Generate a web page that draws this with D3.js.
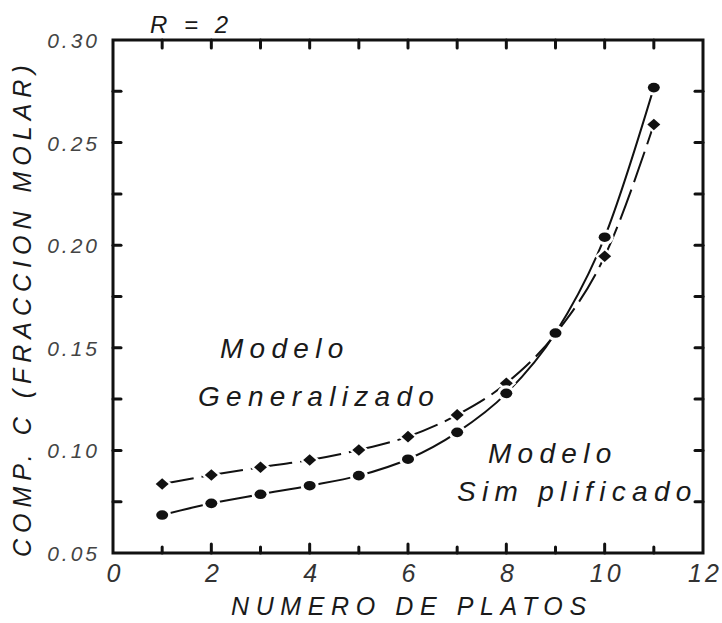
<!DOCTYPE html>
<html>
<head>
<meta charset="utf-8">
<script src="https://cdn.jsdelivr.net/npm/d3@7"></script>
<style>
  html, body { margin: 0; padding: 0; background: #fff; }
  svg { display: block; }
  text { font-family: "Liberation Sans", Arial, sans-serif; font-style: italic; }
</style>
</head>
<body>
<svg id="chart" width="722" height="623"></svg>
<script>
// Number of plates (x) and composition of C (mole fraction) for the two models
const platos = [1, 2, 3, 4, 5, 6, 7, 8, 9, 10, 11];
const generalizado = [0.0836, 0.0880, 0.0918, 0.0953, 0.1002, 0.1067, 0.1173, 0.1327, 0.1568, 0.1946, 0.2588];
const simplificado = [0.0685, 0.0742, 0.0786, 0.0828, 0.0877, 0.0957, 0.1088, 0.1278, 0.1572, 0.2039, 0.2768];

const xTickValues = [0, 2, 4, 6, 8, 10, 12];
const yTickValues = [0.05, 0.10, 0.15, 0.20, 0.25, 0.30];

const svg = d3.select("#chart");
const plot = { left: 113, right: 703, top: 40, bottom: 553 };

const x = d3.scaleLinear().domain([0, 12]).range([plot.left, plot.right]);
const y = d3.scaleLinear().domain([0.05, 0.30]).range([plot.bottom, plot.top]);

const ink = "#111";

// Tick marks pointing inward on all four sides
const xMinor = d3.range(0, 13, 1);
const yMinor = d3.range(0, 11).map(i => 0.05 + i * 0.025);

const ticks = svg.append("g").attr("stroke", ink).attr("stroke-width", 3).attr("stroke-linecap", "round");
xMinor.forEach(v => {
  if (v === 0 || v === 12) return;
  const len = v % 2 === 0 ? 9 : 6;
  ticks.append("line").attr("x1", x(v)).attr("x2", x(v)).attr("y1", plot.bottom).attr("y2", plot.bottom - len);
  ticks.append("line").attr("x1", x(v)).attr("x2", x(v)).attr("y1", plot.top).attr("y2", plot.top + 8);
});
yMinor.forEach((v, i) => {
  if (i === 0 || i === yMinor.length - 1) return;
  ticks.append("line").attr("x1", plot.left).attr("x2", plot.left + 8).attr("y1", y(v)).attr("y2", y(v));
  ticks.append("line").attr("x1", plot.right).attr("x2", plot.right - 8).attr("y1", y(v)).attr("y2", y(v));
});

// Frame
svg.append("rect")
  .attr("x", plot.left).attr("y", plot.top)
  .attr("width", plot.right - plot.left).attr("height", plot.bottom - plot.top)
  .attr("fill", "none").attr("stroke", ink).attr("stroke-width", 3);

// Tick labels
svg.append("g").selectAll("text").data(xTickValues).join("text")
  .attr("x", d => x(d) + 2).attr("y", 582)
  .attr("text-anchor", "middle")
  .attr("font-size", 25).attr("letter-spacing", 3)
  .attr("fill", "#333")
  .text(d => d);

svg.append("g").selectAll("text").data(yTickValues).join("text")
  .attr("x", 100).attr("y", d => y(d) + 8)
  .attr("text-anchor", "end")
  .attr("font-size", 21).attr("letter-spacing", 3)
  .attr("fill", "#444")
  .text(d => d.toFixed(2));

// Axis titles
svg.append("text")
  .attr("x", 231).attr("y", 615)
  .attr("font-size", 25).attr("letter-spacing", 6.6)
  .attr("fill", "#1a1a1a")
  .text("NUMERO DE PLATOS");

svg.append("text")
  .attr("transform", "translate(31,557) rotate(-90)")
  .attr("font-size", 25).attr("letter-spacing", 6.0)
  .attr("fill", "#1a1a1a")
  .text("COMP. C (FRACCION MOLAR)");

svg.append("text")
  .attr("x", 150).attr("y", 33)
  .attr("font-size", 24).attr("letter-spacing", 5)
  .attr("fill", "#1a1a1a")
  .text("R = 2");

// Curves
const line = d3.line().x((d, i) => x(platos[i])).y(d => y(d)).curve(d3.curveMonotoneX);

svg.append("path").datum(simplificado)
  .attr("d", line).attr("fill", "none")
  .attr("stroke", ink).attr("stroke-width", 2);

// Dashed curve drawn one interval at a time so each dash run starts at a marker
function segmentPaths(values) {
  const d = line(values);
  const parts = d.split("C");
  const start = parts[0].replace("M", "").split(",").map(Number);
  const out = [];
  let prev = start;
  for (let i = 1; i < parts.length; i++) {
    const nums = parts[i].split(",").map(Number);
    out.push(`M${prev[0]},${prev[1]}C${parts[i]}`);
    prev = [nums[4], nums[5]];
  }
  return out;
}
svg.append("g").selectAll("path").data(segmentPaths(generalizado)).join("path")
  .attr("d", d => d).attr("fill", "none")
  .attr("stroke", ink).attr("stroke-width", 2)
  .attr("stroke-dasharray", "32,8");

// Markers with a white halo so the lines stop short of them
function drawCircles(values) {
  const g = svg.append("g");
  values.forEach((v, i) => {
    g.append("ellipse").attr("cx", x(platos[i])).attr("cy", y(v)).attr("rx", 9).attr("ry", 8).attr("fill", "#fff");
  });
  values.forEach((v, i) => {
    g.append("ellipse").attr("cx", x(platos[i])).attr("cy", y(v)).attr("rx", 6).attr("ry", 4.8).attr("fill", ink);
  });
}
function drawDiamonds(values) {
  const g = svg.append("g");
  const diamond = (cx, cy, w, h) => `M${cx - w},${cy}L${cx},${cy - h}L${cx + w},${cy}L${cx},${cy + h}Z`;
  values.forEach((v, i) => {
    g.append("path").attr("d", diamond(x(platos[i]), y(v), 10, 9)).attr("fill", "#fff");
  });
  values.forEach((v, i) => {
    g.append("path").attr("d", diamond(x(platos[i]), y(v), 6.5, 5.8)).attr("fill", ink);
  });
}
drawDiamonds(generalizado);
drawCircles(simplificado);

// Model labels
const labels = [
  { text: "Modelo", x: 220, y: 358 },
  { text: "Generalizado", x: 198, y: 406 },
  { text: "Modelo", x: 488, y: 463 },
  { text: "Sim plificado", x: 457, y: 501 }
];
svg.append("g").selectAll("text").data(labels).join("text")
  .attr("x", d => d.x).attr("y", d => d.y)
  .attr("font-size", 28).attr("letter-spacing", 6.3)
  .attr("fill", "#1a1a1a")
  .text(d => d.text);
</script>
</body>
</html>
